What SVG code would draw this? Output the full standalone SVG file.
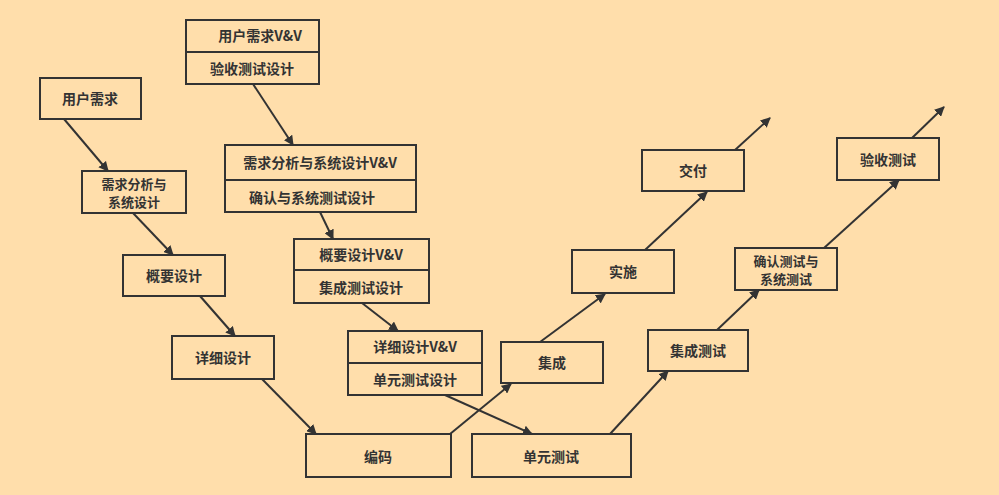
<svg xmlns="http://www.w3.org/2000/svg" width="999" height="495" viewBox="0 0 999 495">
<defs>
<marker id="ah" markerWidth="10" markerHeight="10" refX="9" refY="5" orient="auto" markerUnits="userSpaceOnUse"><path d="M0,0 L10,5 L0,10 Z" fill="#333"/></marker>
<style>
rect{fill:#FFDEAB;stroke:#333;stroke-width:2}
.d{stroke:#333;stroke-width:2}
text{font-family:"Noto Sans CJK SC","Liberation Sans",sans-serif;font-size:14px;font-weight:bold;fill:#333;text-anchor:middle;dominant-baseline:central}
.s{font-size:13px}
#c line{stroke:#333;stroke-width:2;marker-end:url(#ah)}
</style>
</defs>
<rect x="0" y="0" width="999" height="495" style="stroke:none"/>
<g id="n1"><rect x="40" y="78" width="101" height="41"/><text x="90" y="98">用户需求</text></g>
<g id="n2"><rect x="82" y="171" width="104" height="42"/><text class="s" x="134" y="183">需求分析与</text><text class="s" x="134" y="201">系统设计</text></g>
<g id="n3"><rect x="123" y="255" width="102" height="41"/><text x="174" y="275">概要设计</text></g>
<g id="n4"><rect x="172" y="336" width="102" height="43"/><text x="223" y="357">详细设计</text></g>
<g id="n5"><rect x="306" y="434" width="145" height="43"/><text x="378" y="456">编码</text></g>
<g id="n6"><rect x="472" y="434" width="159" height="43"/><text x="551" y="456">单元测试</text></g>
<g id="n7"><rect x="501" y="342" width="102" height="41"/><text x="552" y="362">集成</text></g>
<g id="n8"><rect x="572" y="250" width="102" height="43"/><text x="623" y="271">实施</text></g>
<g id="n9"><rect x="642" y="150" width="102" height="41"/><text x="693" y="170">交付</text></g>
<g id="n10"><rect x="648" y="330" width="100" height="41"/><text x="698" y="350">集成测试</text></g>
<g id="n11"><rect x="735" y="248" width="102" height="42"/><text class="s" x="786" y="260">确认测试与</text><text class="s" x="786" y="278">系统测试</text></g>
<g id="n12"><rect x="837" y="138" width="102" height="42"/><text x="888" y="159">验收测试</text></g>
<g id="v1"><rect x="186" y="20" width="133" height="64"/><line class="d" x1="186" y1="52" x2="319" y2="52"/><text x="260" y="35">用户需求V&amp;V</text><text x="252" y="68">验收测试设计</text></g>
<g id="v2"><rect x="225" y="145" width="191" height="67"/><line class="d" x1="225" y1="180" x2="416" y2="180"/><text x="320" y="162">需求分析与系统设计V&amp;V</text><text x="312" y="197">确认与系统测试设计</text></g>
<g id="v3"><rect x="294" y="239" width="135" height="64"/><line class="d" x1="294" y1="270" x2="429" y2="270"/><text x="361" y="254">概要设计V&amp;V</text><text x="361" y="287">集成测试设计</text></g>
<g id="v4"><rect x="348" y="331" width="134" height="64"/><line class="d" x1="348" y1="363" x2="482" y2="363"/><text x="415" y="346">详细设计V&amp;V</text><text x="415" y="379">单元测试设计</text></g>
<g id="c">
<line x1="64" y1="119" x2="108" y2="171"/>
<line x1="133" y1="213" x2="173" y2="255"/>
<line x1="200" y1="296" x2="235" y2="336"/>
<line x1="262" y1="379" x2="316" y2="434"/>
<line x1="450" y1="434" x2="511" y2="384"/>
<line x1="540" y1="342" x2="605" y2="294"/>
<line x1="645" y1="250" x2="707" y2="192"/>
<line x1="735" y1="150" x2="770" y2="118"/>
<line x1="610" y1="434" x2="668" y2="371"/>
<line x1="717" y1="330" x2="759" y2="290"/>
<line x1="824" y1="248" x2="899" y2="180"/>
<line x1="912" y1="138" x2="944" y2="107"/>
<line x1="253" y1="84" x2="293" y2="145"/>
<line x1="320" y1="212" x2="333" y2="239"/>
<line x1="362" y1="303" x2="398" y2="331"/>
<line x1="445" y1="395" x2="532" y2="434"/>
</g>
</svg>
